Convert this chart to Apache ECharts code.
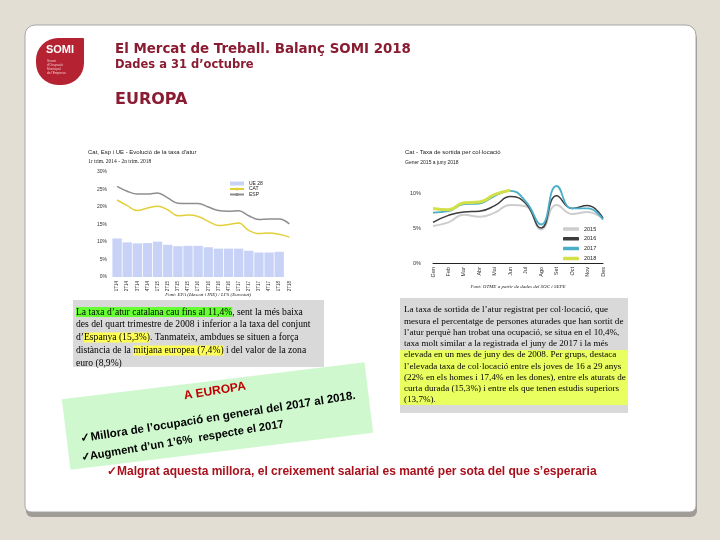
<!DOCTYPE html>
<html><head><meta charset="utf-8">
<script src="https://cdn.jsdelivr.net/npm/echarts@6/dist/echarts.min.js"></script>
<style>html,body{margin:0;padding:0;background:#e3ded4;}#c{width:720px;height:540px;}</style>
</head><body><div id="c"></div>
<script>
// ---- data ----
const quarters = ['1T14','2T14','3T14','4T14','1T15','2T15','3T15','4T15','1T16','2T16','3T16','4T16','1T17','2T17','3T17','4T17','1T18','2T18'];
const ue28 = [11.0, 9.9, 9.6, 9.7, 10.1, 9.2, 8.8, 8.9, 8.9, 8.5, 8.1, 8.1, 8.1, 7.5, 7.0, 7.0, 7.2, null];
const cat = [22.0, 20.4, 19.0, 19.7, 20.2, 19.2, 17.5, 17.7, 17.3, 15.9, 14.7, 15.0, 15.4, 13.3, 12.4, 12.6, 12.2, 11.4];
const esp = [25.9, 24.5, 23.7, 23.7, 24.0, 22.6, 21.1, 21.0, 21.0, 20.0, 19.0, 18.8, 18.9, 17.5, 16.4, 16.6, 16.6, 15.2];
const leftTicks = [0, 5, 10, 15, 20, 25, 30];

const months = ['Gen','Feb','Mar','Abr','Mai','Jun','Jul','Ago','Set','Oct','Nov','Des'];
const y2015 = [5.3, 5.8, 6.9, 6.6, 7.2, 8.3, 8.1, 4.8, 8.3, 7.0, 7.3, 6.3];
const y2016 = [5.8, 6.8, 7.3, 7.4, 8.2, 9.5, 8.5, 5.0, 9.6, 7.8, 8.2, 6.4];
const y2017 = [7.2, 7.4, 8.4, 8.5, 9.6, 10.3, 8.8, 5.5, 11.0, 7.8, 7.8, 6.2];
const y2018 = [7.8, 7.6, 8.6, 8.7, 9.8, 10.4];
const rightTicks = [0, 5, 10];

const leftText = [
  '{g|La taxa d\u2019atur catalana cau fins al 11,4%}, sent la més baixa',
  'des del quart trimestre de 2008 i inferior a la taxa del conjunt',
  'd\u2019{y|Espanya (15,3%)}. Tanmateix, ambdues se situen a força',
  'distància de la {y|mitjana europea (7,4%)} i del valor de la zona',
  'euro (8,9%)'
];
const rightText = [
  'La taxa de sortida de l\u2019atur registrat per col·locació, que',
  'mesura el percentatge de persones aturades que han sortit de',
  'l\u2019atur perquè han trobat una ocupació, se situa en el 10,4%,',
  'taxa molt similar a la registrada el juny de 2017 i la més',
  'elevada en un mes de juny des de 2008. Per grups, destaca',
  'l\u2019elevada taxa de col·locació entre els joves de 16 a 29 anys',
  '(22% en els homes i 17,4% en les dones), entre els aturats de',
  'curta durada (15,3%) i entre els que tenen estudis superiors',
  '(13,7%).'
];

const chart = echarts.init(document.getElementById('c'), null, {renderer:'canvas'});
const maroon = '#8a1c32';
const SANS = 'Liberation Sans, Arial, sans-serif';
const WIDE = 'DejaVu Sans, Verdana, sans-serif';
const SERIF = 'Liberation Serif, Times New Roman, serif';
const deg = Math.PI/180;

function txt(x, y, text, o) {
  o = o || {};
  return {type:'text', x:x, y:y, z:o.z||50, rotation:o.rot||0,
    style:{text:text, fill:o.fill||'#000', fontSize:o.size||10, fontWeight:o.weight||'normal',
      fontStyle:o.style||'normal', fontFamily:o.family||SANS, textAlign:o.align||'left',
      textVerticalAlign:o.valign||'middle', rich:o.rich, lineHeight:o.lh}};
}

const graphics = [
  // card shadow and card
  {type:'rect', z:-20, shape:{x:26,y:29,width:671,height:488,r:[10,10,6,6]}, style:{fill:'#9f9b95'}},
  {type:'rect', z:-19, shape:{x:25,y:25,width:671,height:487,r:[10,10,6,6]}, style:{fill:'#ffffff', stroke:'#a6a6a6', lineWidth:1}},
  // logo
  {type:'rect', z:5, shape:{x:36,y:38,width:48,height:47,r:[22,1,22,22]}, style:{fill:'#b52232'}},
  txt(60, 50, 'SOMI', {fill:'#fff', size:11, weight:'bold', align:'center', z:6}),
  txt(47, 61, 'Servei', {fill:'#f3c8cc', size:3.2, z:6}),
  txt(47, 65, "d'Ocupació", {fill:'#f3c8cc', size:3.2, z:6}),
  txt(47, 69, 'Municipal', {fill:'#f3c8cc', size:3.2, z:6}),
  txt(47, 73, "de l'Empresa", {fill:'#f3c8cc', size:3.2, z:6}),
  // headings
  txt(115, 50, 'El Mercat de Treball. Balanç SOMI 2018', {fill:maroon, size:13.4, weight:'bold', family:WIDE}),
  txt(115, 65, 'Dades a 31 d\u2019octubre', {fill:maroon, size:11.5, weight:'bold', family:WIDE}),
  txt(115, 100, 'EUROPA', {fill:maroon, size:16, weight:'bold', family:WIDE}),
  // left chart titles
  txt(88, 152, 'Cat, Esp i UE - Evolució de la taxa d\u2019atur', {size:6, fill:'#222'}),
  txt(88, 162, '1r trim. 2014 - 2n trim. 2018', {size:5.5, fill:'#222', family:SERIF}),
  txt(208, 295, 'Font: EPA (Idescat i INE) / LFS (Eurostat)', {size:5, fill:'#222', style:'italic', align:'center', family:SERIF}),
  // right chart titles
  txt(405, 152, 'Cat - Taxa de sortida per col·locació', {size:6, fill:'#222'}),
  txt(405, 163, 'Gener 2015 a juny 2018', {size:5, fill:'#222'}),
  txt(518, 287, 'Font: OTME a partir de dades del SOC i SEPE', {size:5, fill:'#222', style:'italic', align:'center', family:SERIF}),
  // left text box
  {type:'rect', z:10, shape:{x:73,y:300,width:251,height:67}, style:{fill:'#d9d9d9'}},
  // right text box
  {type:'rect', z:10, shape:{x:400,y:298,width:228,height:115}, style:{fill:'#d9d9d9'}},
  {type:'rect', z:11, shape:{x:400,y:350,width:228,height:55}, style:{fill:'#e8ff5f'}},
  // rotated green box
  {type:'rect', z:20, x:217.5, y:416, rotation:7*deg,
    shape:{x:-152.5,y:-35.5,width:305,height:71}, style:{fill:'#d0f8cf'}},
  txt(184, 396, 'A EUROPA', {fill:'#c00000', size:12, weight:'bold', rot:9*deg, z:30}),
  txt(81, 439, '\u2713Millora de l\u2019ocupació en general del 2017 al 2018.', {size:11.5, weight:'bold', rot:9*deg, z:30}),
  txt(81, 458, '\u2713Augment d\u2019un 1\u20196%  respecte el 2017', {size:11.2, weight:'bold', rot:9.5*deg, z:30}),
  // bottom red line
  txt(107, 472, '\u2713Malgrat aquesta millora, el creixement salarial es manté per sota del que s\u2019esperaria', {fill:'#a8101c', size:12, weight:'bold'})
];
leftText.forEach((t, i) => {
  graphics.push(txt(76, 312 + i*12.8, t, {size:9.6, family:SERIF, z:15,
    rich:{g:{backgroundColor:'#66ff33', fontSize:9.6, fontFamily:SERIF}, y:{backgroundColor:'#ffff55', fontSize:9.6, fontFamily:SERIF}}}));
});
rightText.forEach((t, i) => {
  graphics.push(txt(404, 310 + i*11.25, t, {size:9.1, family:SERIF, z:15}));
});

const option = {
  animation:false,
  textStyle:{fontFamily:SANS},
  graphic:{elements:graphics},
  legend:[
    {data:[{name:'UE 28', icon:'rect'}, 'CAT', 'ESP'], orient:'vertical', left:224, top:176, itemWidth:14, itemHeight:4, itemGap:0.5,
      textStyle:{fontSize:5, color:'#222'}, selectedMode:false},
    {data:['2015','2016','2017','2018'].map(n => ({name:n, icon:'roundRect'})), orient:'vertical', left:558, top:221, itemWidth:16, itemHeight:3.5, itemGap:3.8,
      textStyle:{fontSize:5.5, color:'#222'}, selectedMode:false}
  ],
  grid:[
    {left:112, top:172, width:182.4, height:105},
    {left:433, top:158, width:170, height:105}
  ],
  xAxis:[
    {type:'category', gridIndex:0, data:quarters, boundaryGap:true,
      axisLine:{show:false}, axisTick:{show:false},
      axisLabel:{rotate:90, fontSize:4.5, color:'#333', interval:0, margin:4}},
    {type:'category', gridIndex:1, data:months, boundaryGap:false,
      axisLine:{show:true, lineStyle:{color:'#222', width:1}}, axisTick:{show:false},
      axisLabel:{rotate:90, fontSize:5.5, color:'#333', interval:0, margin:4}}
  ],
  yAxis:[
    {type:'value', gridIndex:0, min:leftTicks[0], max:leftTicks[leftTicks.length-1], interval:5,
      splitLine:{show:false}, axisLine:{show:false}, axisTick:{show:false},
      axisLabel:{fontSize:5, color:'#333', margin:5, formatter:v => v + '%'}},
    {type:'value', gridIndex:1, min:0, max:15, interval:5,
      splitLine:{show:false}, axisLine:{show:false}, axisTick:{show:false},
      axisLabel:{fontSize:5.5, color:'#333', margin:12, formatter:v => rightTicks.indexOf(v) >= 0 ? v + '%' : ''}}
  ],
  series:[
    {name:'UE 28', type:'bar', xAxisIndex:0, yAxisIndex:0, data:ue28, barCategoryGap:'8%',
      itemStyle:{color:'#c7d2f6'}},
    {name:'CAT', type:'line', xAxisIndex:0, yAxisIndex:0, data:cat, smooth:0.4, symbol:'none',
      lineStyle:{color:'#e3cf3a', width:1.5}, itemStyle:{color:'#e3cf3a'}},
    {name:'ESP', type:'line', xAxisIndex:0, yAxisIndex:0, data:esp, smooth:0.4, symbol:'none',
      lineStyle:{color:'#8e8e8e', width:1.5}, itemStyle:{color:'#8e8e8e'}},
    {name:'2015', type:'line', xAxisIndex:1, yAxisIndex:1, data:y2015, smooth:0.5, symbol:'none',
      lineStyle:{color:'#cdcdcd', width:2}, itemStyle:{color:'#cdcdcd'}},
    {name:'2016', type:'line', xAxisIndex:1, yAxisIndex:1, data:y2016, smooth:0.5, symbol:'none',
      lineStyle:{color:'#3c3c3c', width:1.5}, itemStyle:{color:'#3c3c3c'}},
    {name:'2017', type:'line', xAxisIndex:1, yAxisIndex:1, data:y2017, smooth:0.5, symbol:'none',
      lineStyle:{color:'#4aaec8', width:1.8}, itemStyle:{color:'#4aaec8'}},
    {name:'2018', type:'line', xAxisIndex:1, yAxisIndex:1, data:y2018, smooth:0.5, symbol:'none',
      lineStyle:{color:'#d3e04a', width:3}, itemStyle:{color:'#d3e04a'}}
  ]
};
chart.setOption(option);
</script></body></html>
